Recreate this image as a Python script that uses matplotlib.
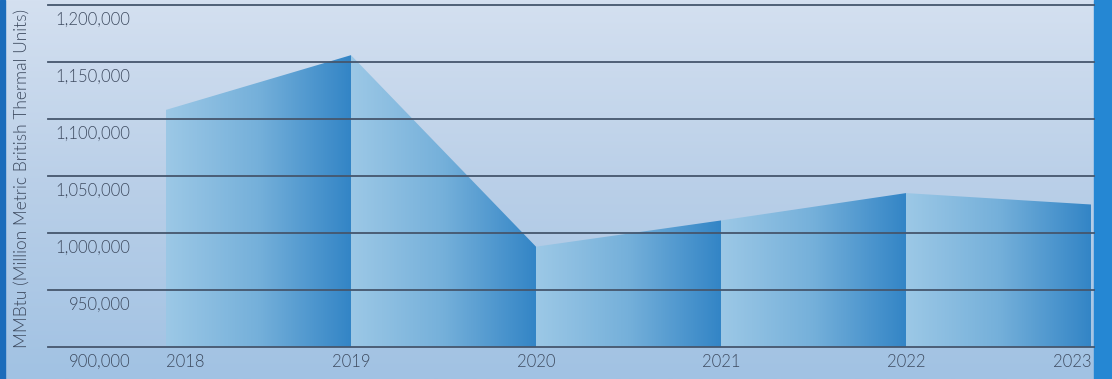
import numpy as np
import matplotlib
matplotlib.use("Agg")
import matplotlib.pyplot as plt
from matplotlib.colors import LinearSegmentedColormap
from matplotlib.patches import Polygon, Rectangle

years = [2018, 2019, 2020, 2021, 2022, 2023]
mmbtu = [1108000, 1156000, 988000, 1011000, 1035000, 1025000]
yticks = [900000, 950000, 1000000, 1050000, 1100000, 1150000, 1200000]

plt.rcParams["font.family"] = ["Lato", "DejaVu Sans"]
text_color = "#3e4b60"
grid_color = "#45566d"
text_weight = 300

W, H = 1112, 379
fig = plt.figure(figsize=(W / 100, H / 100), dpi=100)

# background: vertical wash plus the blue side bands
bg = fig.add_axes([0, 0, 1, 1])
bg.set_axis_off()
bg_cmap = LinearSegmentedColormap.from_list("bg", ["#d4e0f0", "#b9cfe8", "#a1c2e3"])
grad = np.linspace(0, 1, 256).reshape(-1, 1)
bg.imshow(grad, cmap=bg_cmap, aspect="auto", extent=[0, 1, 0, 1], origin="upper")
bg.add_patch(Rectangle((0, 0), 5 / W, 1, color="#1b6cbb"))
bg.add_patch(Rectangle((1094 / W, 0), 18 / W, 1, color="#2587d3"))
bg.set_xlim(0, 1)
bg.set_ylim(0, 1)

x_lo = 2018 - 118 / 185
x_hi = 2023 + 3 / 185
ax = fig.add_axes([48 / W, 32 / H, (1094 - 48) / W, 342 / H])
ax.patch.set_visible(False)
for s in ax.spines.values():
    s.set_visible(False)
ax.set_xticks([])
ax.set_yticks([])

# each year-to-year segment gets its own left-to-right gradient
seg_cmap = LinearSegmentedColormap.from_list("seg", ["#9cc8e6", "#75b0da", "#3385c6"])
hgrad = np.linspace(0, 1, 256).reshape(1, -1)
for i in range(len(years) - 1):
    x0, x1 = years[i], years[i + 1]
    y0, y1 = mmbtu[i], mmbtu[i + 1]
    poly = Polygon([(x0, 900000), (x0, y0), (x1, y1), (x1, 900000)],
                   closed=True, facecolor="none", edgecolor="none")
    ax.add_patch(poly)
    im = ax.imshow(hgrad, cmap=seg_cmap, aspect="auto",
                   extent=[x0, x1, 900000, max(y0, y1)], zorder=1)
    im.set_clip_path(poly)

ax.set_xlim(x_lo, x_hi)
ax.set_ylim(900000, 1200000)

for v in yticks:
    ax.axhline(v, color=grid_color, lw=1.3, zorder=3, clip_on=False)
    ax.annotate(f"{v:,}", xy=(0, v), xycoords=ax.get_yaxis_transform(),
                xytext=(82 * 0.72, -15 * 0.72), textcoords="offset points",
                ha="right", va="center", fontsize=12, color=text_color,
                fontweight=text_weight)

for i, yr in enumerate(years):
    ha = "left" if i == 0 else ("right" if i == len(years) - 1 else "center")
    ax.annotate(str(yr), xy=(yr, 900000), xycoords="data",
                xytext=(0, -15 * 0.72), textcoords="offset points",
                ha=ha, va="center", fontsize=12, color=text_color,
                fontweight=text_weight)

fig.text(22 / W, 1 - 178 / H, "MMBtu (Million Metric British Thermal Units)",
         rotation=90, ha="center", va="center", fontsize=12.5,
         color=text_color, fontweight=text_weight)

fig.savefig("out.png", dpi=100)
